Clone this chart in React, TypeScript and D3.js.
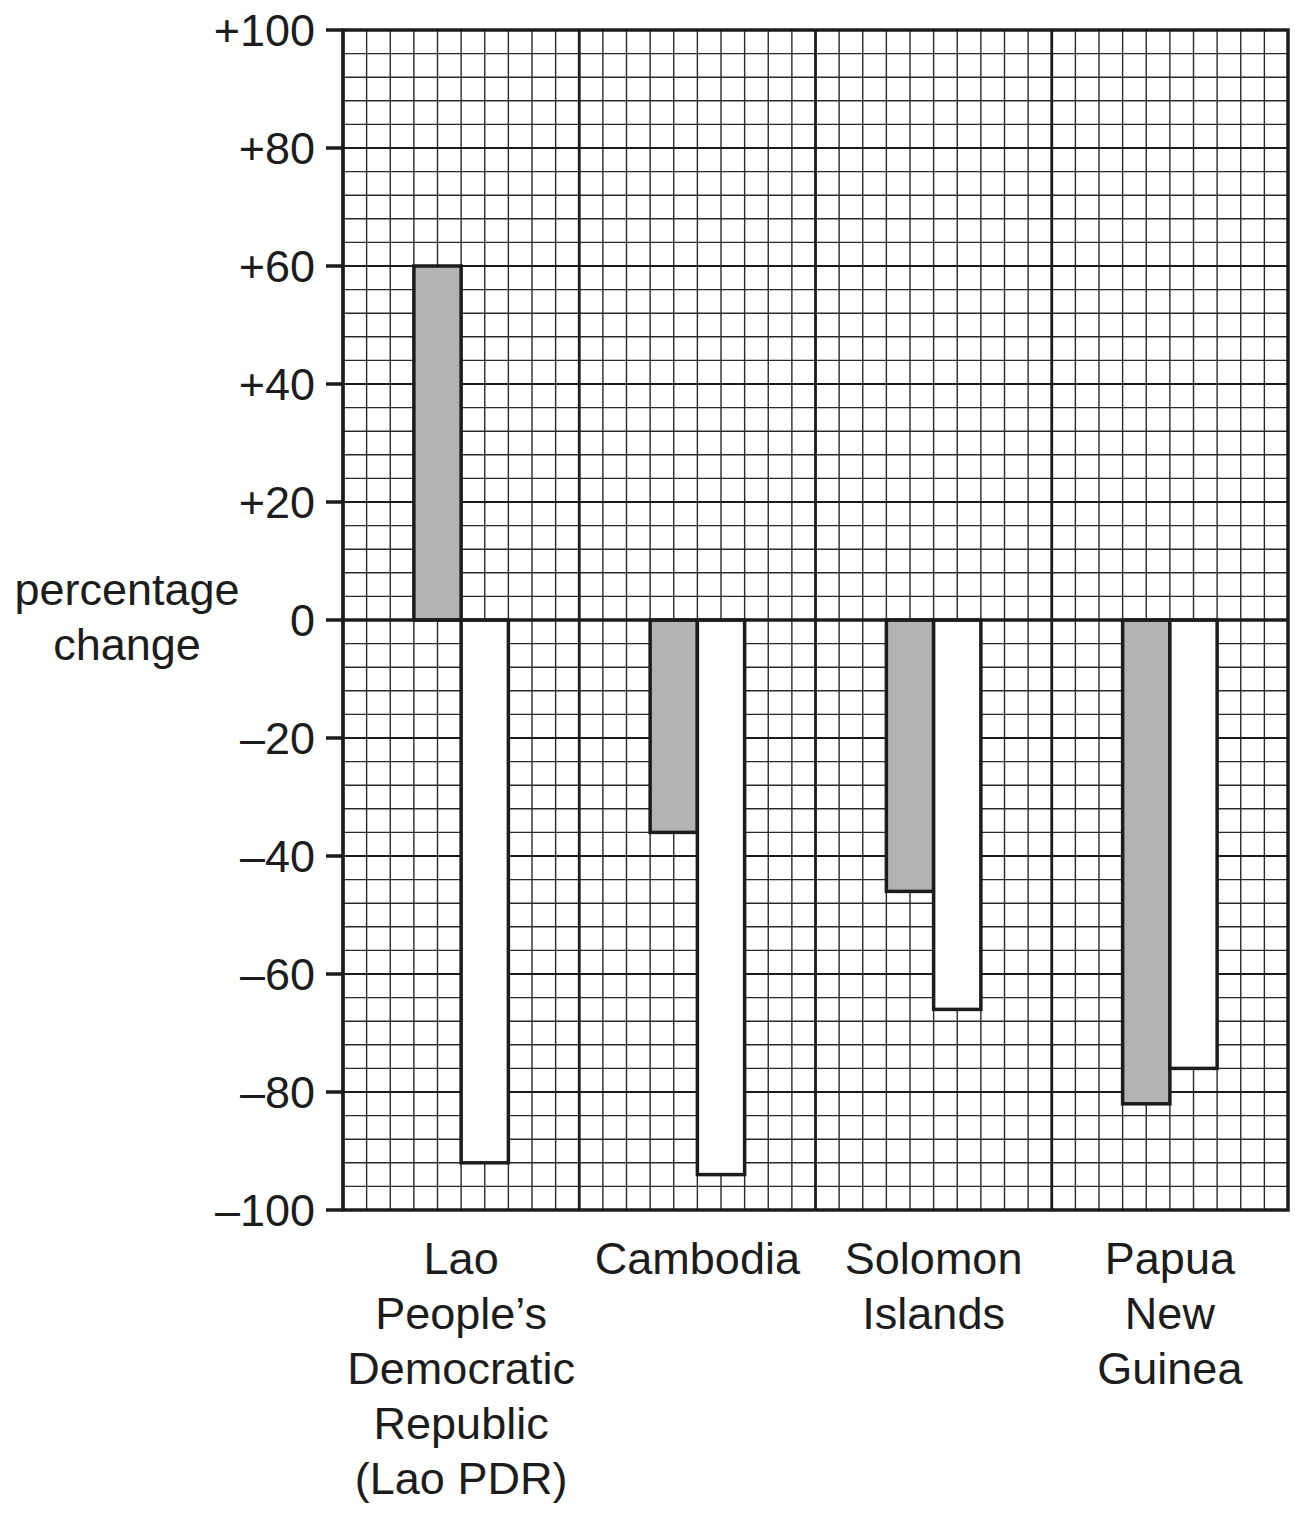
import React from "react";
import * as d3 from "d3";

const categories = ["Lao PDR", "Cambodia", "Solomon Islands", "Papua New Guinea"];
const categoryLabelLines = [
  ["Lao", "People\u2019s", "Democratic", "Republic", "(Lao PDR)"],
  ["Cambodia"],
  ["Solomon", "Islands"],
  ["Papua", "New", "Guinea"],
];
const grayValues = [60, -36, -46, -82];
const whiteValues = [-92, -94, -66, -76];
const yTicks = [100, 80, 60, 40, 20, 0, -20, -40, -60, -80, -100];
const yLabelLines = ["percentage", "change"];

const W = 1301;
const H = 1514;
const left = 343;
const right = 1288;
const top = 30;
const bottom = 1210;
const INK = "#1c1c1c";
const FONT = "'Liberation Sans', Arial, Helvetica, sans-serif";
const FS = 45;
const CELLS = 10; // grid cells per category column

function fmt(v: number) {
  if (v > 0) return "+" + v;
  if (v < 0) return "\u2013" + Math.abs(v);
  return "0";
}

export default function App() {
  const y = d3.scaleLinear().domain([-100, 100]).range([bottom, top]);
  const xBand = d3.scaleBand<string>().domain(categories).range([left, right]).padding(0);
  const gx = d3.scaleLinear().domain([0, categories.length * CELLS]).range([left, right]);

  const minorX = d3.range(0, categories.length * CELLS + 1);
  const minorY = d3.range(-100, 101, 4);
  const majorY = d3.range(-100, 101, 20);

  return (
    <div style={{ position: "absolute", left: 0, top: 0, background: "#fff" }}>
      <svg width={W} height={H} viewBox={`0 0 ${W} ${H}`} style={{ display: "block" }}>
        <rect x={0} y={0} width={W} height={H} fill="#fff" />
        {/* minor grid */}
        <g stroke="#2a2a2a" strokeWidth={1.4}>
          {minorX.map((u) => (
            <line key={"mx" + u} x1={gx(u)} x2={gx(u)} y1={top} y2={bottom} />
          ))}
          {minorY.map((v) => (
            <line key={"my" + v} x1={left} x2={right} y1={y(v)} y2={y(v)} />
          ))}
        </g>
        {/* major grid */}
        <g stroke={INK} strokeWidth={2.2}>
          {majorY.map((v) => (
            <line key={"My" + v} x1={left} x2={right} y1={y(v)} y2={y(v)} />
          ))}
        </g>
        <g stroke={INK} strokeWidth={2.8}>
          {categories.map((c) => (
            <line key={"Mx" + c} x1={xBand(c)!} x2={xBand(c)!} y1={top} y2={bottom} />
          ))}
        </g>
        {/* bars */}
        <g stroke={INK} strokeWidth={3.5}>
          {categories.map((c, i) => {
            const g0 = gx(i * CELLS + 3);
            const g1 = gx(i * CELLS + 5);
            const w1 = gx(i * CELLS + 7);
            const gv = grayValues[i];
            const wv = whiteValues[i];
            return (
              <g key={"bar" + c}>
                <rect
                  x={g0}
                  y={Math.min(y(gv), y(0))}
                  width={g1 - g0}
                  height={Math.abs(y(gv) - y(0))}
                  fill="#b3b3b3"
                />
                <rect
                  x={g1}
                  y={Math.min(y(wv), y(0))}
                  width={w1 - g1}
                  height={Math.abs(y(wv) - y(0))}
                  fill="#fff"
                />
              </g>
            );
          })}
        </g>
        {/* zero line */}
        <line x1={left} x2={right} y1={y(0)} y2={y(0)} stroke={INK} strokeWidth={3.5} />
        {/* frame */}
        <rect x={left} y={top} width={right - left} height={bottom - top} fill="none" stroke={INK} strokeWidth={3.5} />
        {/* ticks & labels */}
        <g>
          {yTicks.map((v) => (
            <g key={"t" + v}>
              <line x1={left - 17} x2={left} y1={y(v)} y2={y(v)} stroke={INK} strokeWidth={3.5} />
              <text
                x={315}
                y={y(v)}
                dy="0.36em"
                textAnchor="end"
                fontFamily={FONT}
                fontSize={FS}
                fill={INK}
              >
                {fmt(v)}
              </text>
            </g>
          ))}
        </g>
        {/* y label */}
        <text textAnchor="middle" fontFamily={FONT} fontSize={FS} fill={INK}>
          {yLabelLines.map((l, i) => (
            <tspan key={l} x={127} y={605 + i * 55}>
              {l}
            </tspan>
          ))}
        </text>
        {/* category labels */}
        {categories.map((c, i) => (
          <text key={"cl" + c} textAnchor="middle" fontFamily={FONT} fontSize={FS} fill={INK}>
            {categoryLabelLines[i].map((l, j) => (
              <tspan key={j} x={xBand(c)! + xBand.bandwidth() / 2} y={1274 + j * 55}>
                {l}
              </tspan>
            ))}
          </text>
        ))}
      </svg>
    </div>
  );
}
